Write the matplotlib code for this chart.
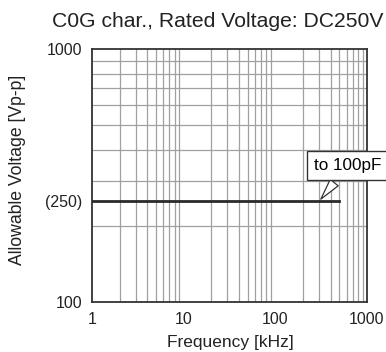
import numpy as np
import matplotlib
matplotlib.use("Agg")
from matplotlib import pyplot as plt
from matplotlib.ticker import FixedLocator, NullFormatter

plt.rcParams['font.family'] = ['Liberation Sans', 'DejaVu Sans']

# data
freq_khz = [1, 500]          # line runs from 1 kHz to ~500 kHz
volt_vpp = [250, 250]
series_label = "to 100pF"

xticks = [1, 10, 100, 1000]
xticklabels = ["1", "10", "100", "1000"]
yticks = [100, 250, 1000]
yticklabels = ["100", "(250)", "1000"]

title = "C0G char., Rated Voltage: DC250V"
xlabel = "Frequency [kHz]"
ylabel = "Allowable Voltage [Vp-p]"

W, H = 386, 352
fig = plt.figure(figsize=(W / 100, H / 100), dpi=100)
ax = fig.add_axes([92 / W, 1 - 302 / H, 275 / W, 253 / H])

ax.set_xscale("log")
ax.set_yscale("log")
ax.set_xlim(1, 1000)
ax.set_ylim(100, 1000)

# grid lines on every log step
xgrid = [m * d for d in (1, 10, 100) for m in range(2, 10)] + [10, 100]
ygrid = [m * 100 for m in range(2, 10)]
ax.xaxis.set_minor_locator(FixedLocator(xgrid))
ax.yaxis.set_minor_locator(FixedLocator(ygrid))
ax.xaxis.set_minor_formatter(NullFormatter())
ax.yaxis.set_minor_formatter(NullFormatter())
ax.grid(which="minor", color="#a0a0a0", lw=0.9)
ax.grid(which="major", visible=False)

ax.set_xticks(xticks)
ax.set_xticklabels(xticklabels)
ax.set_yticks(yticks)
ax.set_yticklabels(yticklabels)
ax.tick_params(which="both", length=0, labelsize=11.5, colors="#222222", pad=7)

for s in ax.spines.values():
    s.set_color("#333333")
    s.set_linewidth(1.3)

ax.plot(freq_khz, volt_vpp, color="#2a2a2a", lw=2, zorder=3)

ax.annotate(series_label, xy=(300, 250), xytext=(620, 346),
            textcoords="data", fontsize=12.3, ha="center", va="center",
            annotation_clip=False, zorder=5,
            bbox=dict(boxstyle="square,pad=0.4", fc="white", ec="#333333", lw=1),
            arrowprops=dict(arrowstyle="wedge,tail_width=0.6,shrink_factor=0.5",
                            fc="white", ec="#333333", lw=0.9))

fig.text(218 / W, 1 - 27 / H, title, ha="center", va="baseline", fontsize=15.2, color="#222222")
fig.text(230 / W, 1 - 342 / H, xlabel, ha="center", va="center", fontsize=12.5, color="#222222")
fig.text(18 / W, 1 - 170 / H, ylabel, ha="center", va="center", rotation=90, fontsize=12.7, color="#222222")

fig.savefig("out.png", dpi=100)
